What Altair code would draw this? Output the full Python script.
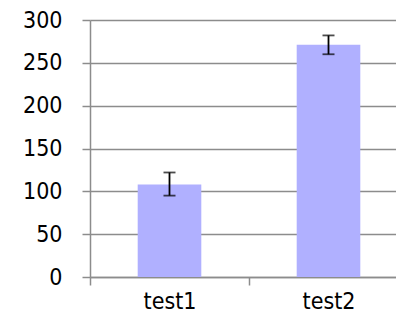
import altair as alt
import pandas as pd

categories = ["test1", "test2"]
values = [108, 271]
err_low = [95, 260]
err_high = [122, 282]

df = pd.DataFrame({"cat": categories, "val": values, "lo": err_low, "hi": err_high})

FONT = "DejaVu Sans Condensed, DejaVu Sans"
GRID = "#8c8c8c"

x = alt.X("cat:N", title=None,
          scale=alt.Scale(paddingInner=0, paddingOuter=0, range=[0, 318]),
          axis=alt.Axis(labelAngle=0, tickBand="extent", labelPadding=5))
y_axis = alt.Axis(values=[0, 50, 100, 150, 200, 250, 300], labelPadding=20, grid=True)

bars = alt.Chart(df).mark_bar(color="#b0b0ff", width=alt.RelativeBandSize(0.4)).encode(
    x=x,
    y=alt.Y("val:Q", title=None, scale=alt.Scale(domain=[0, 300], nice=False), axis=y_axis),
)
rule = alt.Chart(df).mark_rule(color="black", strokeWidth=1.8).encode(
    x=x, y="lo:Q", y2="hi:Q"
)
cap_lo = alt.Chart(df).mark_tick(color="black", size=12, thickness=1.8).encode(x=x, y="lo:Q")
cap_hi = alt.Chart(df).mark_tick(color="black", size=12, thickness=1.8).encode(x=x, y="hi:Q")

chart = alt.layer(bars, rule, cap_lo, cap_hi).properties(
    width=306, height=257,
    autosize=alt.AutoSizeParams(type="none"),
    padding={"left": 82, "top": 12, "right": 0, "bottom": 37},
).configure_view(stroke=None).configure_axis(
    labelFont=FONT, labelFontSize=23, labelColor="black",
    tickColor=GRID, domainColor=GRID, gridColor=GRID, tickSize=8,
    domainWidth=1.5, tickWidth=1.5, gridWidth=1.5,
).configure_axisX(grid=False)

chart.save("out.html", embed_options={"renderer": "svg", "actions": False})
